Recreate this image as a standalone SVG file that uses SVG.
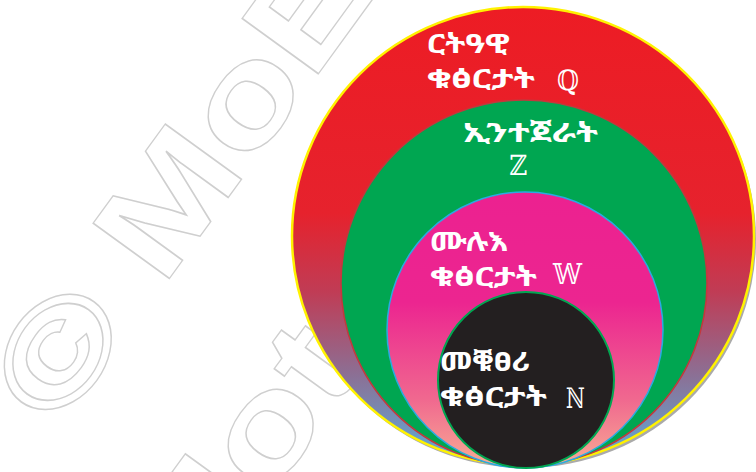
<svg xmlns="http://www.w3.org/2000/svg" width="756" height="472" viewBox="0 0 756 472">
<defs>
<linearGradient id="gOuter" gradientUnits="userSpaceOnUse" x1="0" y1="7" x2="0" y2="466">
<stop offset="0" stop-color="#ed1c24"/>
<stop offset="0.45" stop-color="#e6222d"/>
<stop offset="0.62" stop-color="#c03c55"/>
<stop offset="0.8" stop-color="#8c6f94"/>
<stop offset="1" stop-color="#5bb0de"/>
</linearGradient>
<linearGradient id="gPink" gradientUnits="userSpaceOnUse" x1="0" y1="192" x2="0" y2="468">
<stop offset="0" stop-color="#ec2190"/>
<stop offset="0.4" stop-color="#ec2590"/>
<stop offset="0.75" stop-color="#f0688f"/>
<stop offset="1" stop-color="#f8ad94"/>
</linearGradient>
<style>
.wm{font-family:"Liberation Sans",Arial,sans-serif;font-weight:bold;font-size:137px;fill:none;stroke:#cfcfcf;stroke-width:1.3}
.lbl{font-family:"Noto Sans Ethiopic","Noto Serif Ethiopic","Abyssinica SIL","DejaVu Sans",sans-serif;font-weight:bold;font-size:26px;fill:#ffffff}
.sym{font-family:"DejaVu Serif","DejaVu Sans",serif;font-size:28px;fill:#ffffff}
</style>
</defs>
<rect width="756" height="472" fill="#ffffff"/>
<g id="watermark">
<text class="wm" transform="translate(58,432) rotate(-54) scale(1.28,1)">© MoE</text>
<text class="wm" transform="translate(194,602) rotate(-54) scale(1.28,1)">Not</text>
</g>
<g id="node-rational">
<ellipse cx="525" cy="239" rx="231" ry="229" fill="#aaaaaa"/>
<ellipse cx="523" cy="236" rx="231" ry="229" fill="url(#gOuter)" stroke="#fff200" stroke-width="2.5"/>
<text class="lbl" x="427" y="53" textLength="83" lengthAdjust="spacingAndGlyphs">ርትዓዊ</text>
<text class="lbl" x="427" y="88" textLength="108" lengthAdjust="spacingAndGlyphs">ቁፅርታት</text>
<text class="sym" x="557" y="90" textLength="22" lengthAdjust="spacingAndGlyphs">ℚ</text>
</g>
<g id="node-integer">
<circle cx="524" cy="283" r="183" fill="#00a651" stroke="#c3383d" stroke-width="1.5"/>
<text class="lbl" x="463" y="142" textLength="135" lengthAdjust="spacingAndGlyphs">ኢንተጀራት</text>
<text class="sym" x="509" y="175" textLength="18" lengthAdjust="spacingAndGlyphs">ℤ</text>
</g>
<g id="node-whole">
<circle cx="525" cy="330" r="138" fill="url(#gPink)" stroke="#29abe2" stroke-width="1.5"/>
<text class="lbl" x="430" y="251" textLength="78" lengthAdjust="spacingAndGlyphs">ሙሉእ</text>
<text class="lbl" x="430" y="286" textLength="107" lengthAdjust="spacingAndGlyphs">ቁፅርታት</text>
<text class="sym" x="553" y="284" textLength="29" lengthAdjust="spacingAndGlyphs">𝕎</text>
</g>
<g id="node-natural">
<circle cx="526" cy="380" r="88" fill="#231f20" stroke="#00a651" stroke-width="2"/>
<text class="lbl" x="440" y="371" textLength="90" lengthAdjust="spacingAndGlyphs">መቑፀሪ</text>
<text class="lbl" x="440" y="406" textLength="107" lengthAdjust="spacingAndGlyphs">ቁፅርታት</text>
<text class="sym" x="566" y="408" textLength="19" lengthAdjust="spacingAndGlyphs">ℕ</text>
</g>
</svg>
